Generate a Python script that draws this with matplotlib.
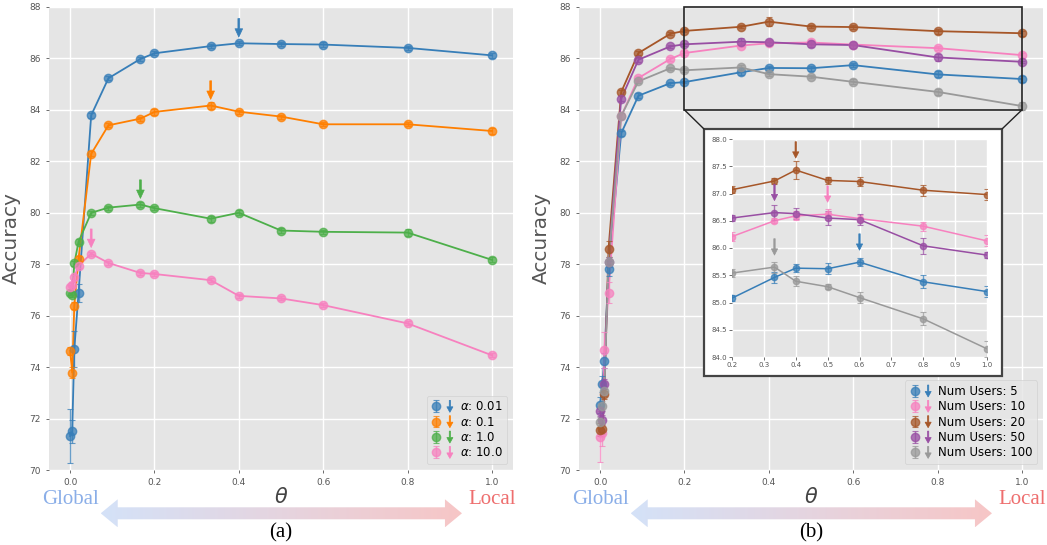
import numpy as np
import matplotlib
matplotlib.use('Agg')
import matplotlib.pyplot as plt
from matplotlib.patches import Polygon, Rectangle, ConnectionPatch, FancyArrow
from matplotlib.legend_handler import HandlerTuple, HandlerBase
from matplotlib.colors import LinearSegmentedColormap
import matplotlib.transforms as mtransforms

plt.style.use('ggplot')

# ---------------- data ----------------
theta = [0.0, 0.005, 0.01, 0.02, 0.05, 0.0909, 0.1667, 0.2, 0.3333, 0.4, 0.5, 0.6, 0.8, 1.0]

# panel (a): different alpha
alpha_labels = [r'$\alpha$: 0.01', r'$\alpha$: 0.1', r'$\alpha$: 1.0', r'$\alpha$: 10.0']
alpha_colors = ['#377eb8', '#ff7f00', '#4daf4a', '#f781bf']
acc_a001 = [71.32, 71.50, 74.70, 76.87, 83.79, 85.23, 85.98, 86.20, 86.48, 86.59, 86.56, 86.54, 86.41, 86.12]
acc_a01 = [74.63, 73.79, 76.39, 78.22, 82.29, 83.40, 83.66, 83.92, 84.17, 83.93, 83.74, 83.44, 83.44, 83.18]
acc_a1 = [76.90, 76.82, 78.03, 78.87, 80.00, 80.20, 80.32, 80.18, 79.77, 80.00, 79.31, 79.26, 79.23, 78.17]
acc_a10 = [77.10, 77.20, 77.50, 77.94, 78.41, 78.05, 77.66, 77.62, 77.38, 76.77, 76.67, 76.41, 75.70, 74.46]
err_a001 = [1.05, 0.45, 0.70, 0.35, 0.10, 0.08, 0.08, 0.08, 0.08, 0.08, 0.08, 0.08, 0.08, 0.10]
err_a01 = [0.15, 0.20, 0.15, 0.10, 0.10, 0.08, 0.08, 0.10, 0.12, 0.08, 0.08, 0.08, 0.08, 0.12]
err_a1 = [0.10, 0.10, 0.10, 0.10, 0.08, 0.08, 0.10, 0.08, 0.12, 0.10, 0.08, 0.08, 0.15, 0.10]
err_a10 = [0.10, 0.10, 0.10, 0.10, 0.08, 0.08, 0.08, 0.08, 0.08, 0.08, 0.08, 0.08, 0.08, 0.08]

# panel (b): different number of users
user_labels = ['Num Users: 5', 'Num Users: 10', 'Num Users: 20', 'Num Users: 50', 'Num Users: 100']
user_colors = ['#377eb8', '#f781bf', '#a65628', '#984ea3', '#999999']
acc_u5 = [72.53, 73.35, 74.25, 77.83, 83.09, 84.55, 85.04, 85.08, 85.46, 85.63, 85.62, 85.74, 85.38, 85.20]
acc_u10 = [71.30, 71.45, 74.67, 76.89, 83.76, 85.24, 85.98, 86.21, 86.50, 86.59, 86.62, 86.54, 86.40, 86.13]
acc_u20 = [71.57, 71.60, 72.95, 78.60, 84.69, 86.21, 86.96, 87.07, 87.23, 87.43, 87.24, 87.22, 87.06, 86.98]
acc_u50 = [72.28, 71.95, 73.34, 78.10, 84.43, 85.95, 86.47, 86.55, 86.65, 86.63, 86.55, 86.52, 86.04, 85.87]
acc_u100 = [71.85, 72.50, 73.08, 78.09, 83.76, 85.11, 85.62, 85.54, 85.65, 85.39, 85.29, 85.09, 84.70, 84.15]
err_u5 = [0.30, 0.30, 0.30, 0.30, 0.10, 0.10, 0.06, 0.05, 0.10, 0.07, 0.10, 0.07, 0.12, 0.10]
err_u10 = [1.00, 0.50, 0.70, 0.40, 0.10, 0.08, 0.06, 0.08, 0.05, 0.08, 0.10, 0.06, 0.08, 0.10]
err_u20 = [0.25, 0.20, 0.20, 0.30, 0.10, 0.08, 0.06, 0.06, 0.06, 0.17, 0.06, 0.08, 0.10, 0.10]
err_u50 = [0.20, 0.20, 0.20, 0.20, 0.10, 0.08, 0.06, 0.06, 0.13, 0.10, 0.12, 0.10, 0.15, 0.05]
err_u100 = [0.20, 0.20, 0.20, 0.20, 0.10, 0.08, 0.06, 0.08, 0.10, 0.09, 0.05, 0.10, 0.12, 0.15]

yticks_main = [70, 72, 74, 76, 78, 80, 82, 84, 86, 88]
xticks_main = [0.0, 0.2, 0.4, 0.6, 0.8, 1.0]
inset_xlim = (0.2, 1.0)
inset_ylim = (84.0, 88.0)

# ---------------- figure ----------------
W, H = 1047, 545
fig = plt.figure(figsize=(W / 100, H / 100), dpi=100)
fig.patch.set_facecolor('white')

XLIM = (-0.05, 1.05)
YLIM = (70, 88)
GREY = '#555555'


class ArrowKey:
    def __init__(self, color):
        self.color = color


class HandlerArrow(HandlerBase):
    def create_artists(self, legend, orig_handle, xdescent, ydescent, width, height,
                       fontsize, trans):
        cx = -xdescent + width / 2
        top = -ydescent + height * 1.2
        length = height * 1.45
        arr = FancyArrow(cx, top, 0, -length, width=0.9, head_width=4.4, head_length=4.0,
                         length_includes_head=True, color=orig_handle.color,
                         transform=trans)
        return [arr]


def px(x0, y0, x1, y1):
    return [x0 / W, 1 - y1 / H, (x1 - x0) / W, (y1 - y0) / H]


def style_axes(ax, fs):
    ax.set_facecolor('#E5E5E5')
    ax.grid(True, color='white', lw=1.0)
    ax.tick_params(labelsize=fs, colors=GREY, length=2.5, width=0.6)
    for s in ax.spines.values():
        s.set_visible(False)


def draw_series(ax, xs, ys, es, c, ms, cap, lw=1.3):
    ax.plot(xs, ys, '-', color=c, lw=lw, zorder=3)
    eb = ax.errorbar(xs, ys, yerr=es, fmt='o', color=c, ms=ms, alpha=0.75,
                     capsize=cap, elinewidth=1.0, capthick=0.8, zorder=4)
    return eb


def peak_arrow(ax, x, y, c, off0, off1, width, hw, hl):
    ax.annotate('', xy=(x, y + off1), xytext=(x, y + off0),
                arrowprops=dict(facecolor=c, edgecolor=c, width=width,
                                headwidth=hw, headlength=hl, shrink=0.0),
                zorder=5)


def grad_arrow(ax_ref, xd0, xd1, yc_px):
    pos = ax_ref.get_position()
    fx0 = pos.x0 + (xd0 - XLIM[0]) / (XLIM[1] - XLIM[0]) * pos.width
    fx1 = pos.x0 + (xd1 - XLIM[0]) / (XLIM[1] - XLIM[0]) * pos.width
    hh = 28.0
    a = fig.add_axes([fx0, 1 - (yc_px + hh / 2) / H, fx1 - fx0, hh / H])
    a.set_axis_off()
    a.set_xlim(0, 1)
    a.set_ylim(0, 1)
    cmap = LinearSegmentedColormap.from_list('g', ['#d4e2f8', '#f7c6c6'])
    im = a.imshow(np.linspace(0, 1, 256)[None, :], extent=[0, 1, 0, 1],
                  aspect='auto', cmap=cmap, origin='lower', interpolation='bilinear')
    wpx = (fx1 - fx0) * W
    hl = 17.0 / wpx
    s = 6.0 / hh
    pts = [(0, 0.5), (hl, 1), (hl, 0.5 + s), (1 - hl, 0.5 + s), (1 - hl, 1), (1, 0.5),
           (1 - hl, 0), (1 - hl, 0.5 - s), (hl, 0.5 - s), (hl, 0)]
    poly = Polygon(pts, closed=True, transform=a.transData, facecolor='none', edgecolor='none')
    a.add_patch(poly)
    im.set_clip_path(poly)


def bottom_text(ax, label):
    pos = ax.get_position()
    tr = mtransforms.blended_transform_factory(ax.transData, fig.transFigure)
    ax.text(0.0, 1 - 500 / H, 'Global', transform=tr, ha='center', va='center',
            fontsize=15, family='Liberation Serif', color='#8aaee8')
    ax.text(1.0, 1 - 500 / H, 'Local', transform=tr, ha='center', va='center',
            fontsize=15, family='Liberation Serif', color='#ee6e6e')
    fig.text(pos.x0 + pos.width / 2, 1 - 497 / H, r'$\theta$', ha='center', va='center',
             fontsize=15, color='#444444')
    fig.text(pos.x0 + pos.width / 2, 1 - 533 / H, label, ha='center', va='center',
             fontsize=15, family='Liberation Serif', color='black')
    grad_arrow(ax, 0.0726, 0.929, 513.3)


def add_legend(ax, ebs, colors, labels):
    hs = [(eb, ArrowKey(c)) for eb, c in zip(ebs, colors)]
    ax.legend(hs, labels, loc='lower right', fontsize=8.5,
              handler_map={tuple: HandlerTuple(ndivide=None, pad=0.3),
                           ArrowKey: HandlerArrow()},
              handlelength=2.0, handletextpad=0.4, borderpad=0.4, labelspacing=0.2,
              framealpha=0.8, facecolor='#E5E5E5', edgecolor='#cccccc')


# ---------------- panel (a) ----------------
axA = fig.add_axes(px(49, 7, 513, 470))
style_axes(axA, 6.5)
series_a = [acc_a001, acc_a01, acc_a1, acc_a10]
errs_a = [err_a001, err_a01, err_a1, err_a10]
ebs_a = []
for ys, es, c in zip(series_a, errs_a, alpha_colors):
    ebs_a.append(draw_series(axA, theta, ys, es, c, ms=6, cap=2.5))
    i = int(np.argmax(ys))
    peak_arrow(axA, theta[i], ys[i], c, 0.96, 0.24, 1.3, 5.5, 6)
axA.set_xlim(*XLIM)
axA.set_ylim(*YLIM)
axA.set_yticks(yticks_main)
axA.set_xticks(xticks_main)
axA.set_ylabel('Accuracy', fontsize=14.5, color=GREY, labelpad=6)
add_legend(axA, ebs_a, alpha_colors, alpha_labels)
bottom_text(axA, '(a)')

# ---------------- panel (b) ----------------
axB = fig.add_axes(px(579, 7, 1043, 470))
style_axes(axB, 6.5)
series_b = [acc_u5, acc_u10, acc_u20, acc_u50, acc_u100]
errs_b = [err_u5, err_u10, err_u20, err_u50, err_u100]
ebs_b = []
for ys, es, c in zip(series_b, errs_b, user_colors):
    ebs_b.append(draw_series(axB, theta, ys, es, c, ms=6, cap=2.5))
axB.set_xlim(*XLIM)
axB.set_ylim(*YLIM)
axB.set_yticks(yticks_main)
axB.set_xticks(xticks_main)
axB.set_ylabel('Accuracy', fontsize=14.5, color=GREY, labelpad=6)
add_legend(axB, ebs_b, user_colors, user_labels)
bottom_text(axB, '(b)')

# zoom rectangle on main axes
axB.add_patch(Rectangle((inset_xlim[0], inset_ylim[0]), inset_xlim[1] - inset_xlim[0],
                        inset_ylim[1] - inset_ylim[0], fill=False, edgecolor='#222222',
                        lw=1.2, zorder=6, clip_on=False))

# white frame for inset
bx0, by0, bx1, by1 = 704, 129, 1002, 376
frame = Rectangle((bx0 / W, 1 - by1 / H), (bx1 - bx0) / W, (by1 - by0) / H,
                  transform=fig.transFigure, facecolor='white', edgecolor='#444444',
                  lw=1.6, zorder=2)
fig.add_artist(frame)
for xd, xf in [(inset_xlim[0], bx0), (inset_xlim[1], bx1)]:
    cp = ConnectionPatch(xyA=(xd, inset_ylim[0]), coordsA=axB.transData,
                         xyB=(xf / W, 1 - by0 / H), coordsB=fig.transFigure,
                         color='#222222', lw=1.0, zorder=2)
    fig.add_artist(cp)

axI = fig.add_axes(px(732, 139, 987, 357))
axI.set_zorder(3)
style_axes(axI, 5)
for ys, es, c in zip(series_b, errs_b, user_colors):
    draw_series(axI, theta, ys, es, c, ms=4.5, cap=2, lw=1.1)
axI.set_xlim(*inset_xlim)
axI.set_ylim(*inset_ylim)
axI.set_xticks(np.arange(0.2, 1.01, 0.1))
axI.set_yticks(np.arange(84.0, 88.01, 0.5))
axI.xaxis.set_major_formatter(matplotlib.ticker.FormatStrFormatter('%.1f'))
axI.yaxis.set_major_formatter(matplotlib.ticker.FormatStrFormatter('%.1f'))
axI.tick_params(length=2, pad=1.5)
th = np.array(theta)
mask = th >= inset_xlim[0]
for ys, c in zip(series_b, user_colors):
    yv = np.array(ys)
    idx = np.where(mask)[0][int(np.argmax(yv[mask]))]
    peak_arrow(axI, theta[idx], ys[idx], c, 0.52, 0.22, 1.0, 4.5, 4.5)

fig.savefig('out.png', dpi=100, facecolor='white')
